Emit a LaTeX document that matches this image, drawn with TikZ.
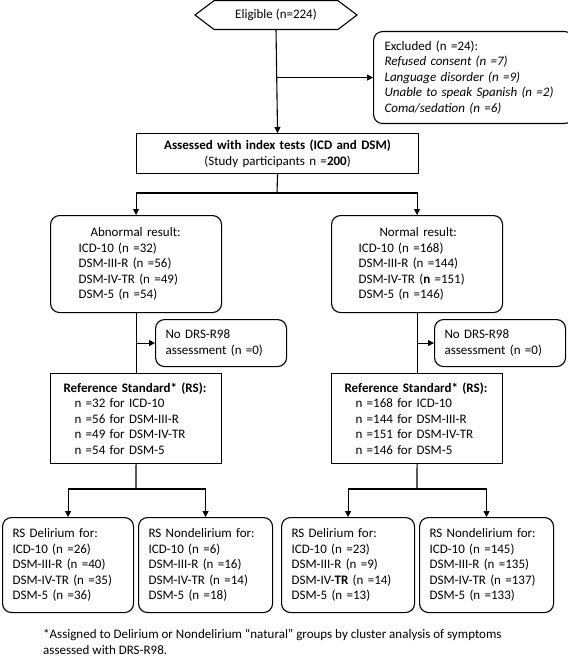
\documentclass[tikz,border=0pt]{standalone}
\usepackage{fontspec}
\setmainfont{Carlito}
\usetikzlibrary{arrows.meta}
\begin{document}
\begin{tikzpicture}[x=1pt,y=-1pt,
  every node/.style={font=\fontsize{13}{15.5}\selectfont},
  line/.style={draw=black, line width=1.1pt},
  arr/.style={line, -{Triangle[length=6pt,width=6pt]}},
  rbox/.style={draw, line width=1.1pt, rounded corners=9pt, align=left, inner ysep=0pt, anchor=north west},
  sbox/.style={draw, line width=1.1pt, align=left, inner ysep=0pt, anchor=north west},
]
\useasboundingbox (0,0) rectangle (567,660);

% Eligible hexagon
\node[inner sep=0pt] (elig) at (276,15) {Eligible (n=224)};
\coordinate (hl) at (195,15);
\coordinate (hr) at (357,15);
\coordinate (eligb) at (276,29.5);
\draw[line] (hl) -- (214,0.7) -- (338,0.7) -- (hr) -- (338,29.5) -- (214,29.5) -- cycle;

% Excluded
\node[rbox, minimum width=192, minimum height=92, inner xsep=11, text width=178] (excl) at (373,31)
 {Excluded (n =24):\\
  \textit{Refused consent (n =7)}\\
  \textit{Language disorder (n =9)}\\
  \textit{Unable to speak Spanish (n =2)}\\
  \textit{Coma/sedation (n =6)}};

% Assessed
\node[sbox, minimum width=282, minimum height=40, inner xsep=0, text width=282, align=center] (assess) at (136,133)
 {\textbf{Assessed with index tests (ICD and DSM)}\\(Study participants n =\textbf{200})};

% Abnormal / Normal
\node[rbox, minimum width=171, minimum height=97, inner xsep=28, text width=115] (abn) at (50,215)
 {\hspace{12pt}Abnormal result:\\ICD-10 (n =32)\\DSM-III-R (n =56)\\DSM-IV-TR (n =49)\\DSM-5 (n =54)};
\node[rbox, minimum width=171, minimum height=97, inner xsep=27, text width=117] (nor) at (331,215)
 {\hspace{21pt}Normal result:\\ICD-10 (n =168)\\DSM-III-R (n =144)\\DSM-IV-TR (\textbf{n} =151)\\DSM-5 (n =146)};

% No DRS
\node[rbox, minimum width=131, minimum height=47, inner xsep=10, text width=111] (ndl) at (155,319)
 {No DRS-R98\\assessment (n =0)};
\node[rbox, minimum width=131, minimum height=47, inner xsep=10, text width=111] (ndr) at (434,319)
 {No DRS-R98\\assessment (n =0)};

% Reference standard
\node[sbox, minimum width=171, minimum height=90, inner xsep=13, text width=145] (rsl) at (50,373)
 {\textbf{Reference Standard* (RS):}\\
  \hspace{11pt}n =32 for ICD-10\\
  \hspace{11pt}n =56 for DSM-III-R\\
  \hspace{11pt}n =49 for DSM-IV-TR\\
  \hspace{11pt}n =54 for DSM-5};
\node[sbox, minimum width=171, minimum height=90, inner xsep=13, text width=145] (rsr) at (331,373)
 {\textbf{Reference Standard* (RS):}\\
  \hspace{11pt}n =168 for ICD-10\\
  \hspace{11pt}n =144 for DSM-III-R\\
  \hspace{11pt}n =151 for DSM-IV-TR\\
  \hspace{11pt}n =146 for DSM-5};

% Bottom boxes
\node[rbox, minimum width=131, minimum height=95, inner xsep=10, text width=111] (b1) at (2,517)
 {RS Delirium for:\\ICD-10 (n =26)\\DSM-III-R (n =40)\\DSM-IV-TR (n =35)\\DSM-5 (n =36)};
\node[rbox, minimum width=134, minimum height=95, inner xsep=10, text width=114] (b2) at (138,517)
 {RS Nondelirium for:\\ICD-10 (n =6)\\DSM-III-R (n =16)\\DSM-IV-TR (n =14)\\DSM-5 (n =18)};
\node[rbox, minimum width=133, minimum height=95, inner xsep=10, text width=113] (b3) at (281,517)
 {RS Delirium for:\\ICD-10 (n =23)\\DSM-III-R (n =9)\\DSM-IV-\textbf{TR} (n =14)\\DSM-5 (n =13)};
\node[rbox, minimum width=134, minimum height=95, inner xsep=10, text width=114] (b4) at (419,517)
 {RS Nondelirium for:\\ICD-10 (n =145)\\DSM-III-R (n =135)\\DSM-IV-TR (n =137)\\DSM-5 (n =133)};

% Footnote
\node[anchor=north west, align=left, inner sep=0pt] (foot) at (43,629)
 {*Assigned to Delirium or Nondelirium “natural” groups by cluster analysis of symptoms\\assessed with DRS-R98.};

% Connectors
\coordinate (j1) at (eligb |- excl.west);
\draw[arr] (eligb) -- (assess.north);
\draw[arr] (j1) -- (excl.west);

\coordinate (s1) at (277,193);
\draw[line] (assess.south) -- (s1);
\draw[arr] (s1) -| (abn.north);
\draw[arr] (s1) -| (nor.north);

\draw[line] (abn.south) -- (rsl.north);
\draw[line] (nor.south) -- (rsr.north);
\coordinate (j2) at (abn.south |- ndl.west);
\coordinate (j3) at (nor.south |- ndr.west);
\draw[arr] (j2) -- (ndl.west);
\draw[arr] (j3) -- (ndr.west);

\coordinate (s2) at (136,489);
\coordinate (s3) at (417,489);
\draw[line] (rsl.south) -- (s2);
\draw[line] (rsr.south) -- (s3);
\draw[arr] (s2) -| (b1.north);
\draw[arr] (s2) -| (b2.north);
\draw[arr] (s3) -| (b3.north);
\draw[arr] (s3) -| (b4.north);
\end{tikzpicture}
\end{document}
